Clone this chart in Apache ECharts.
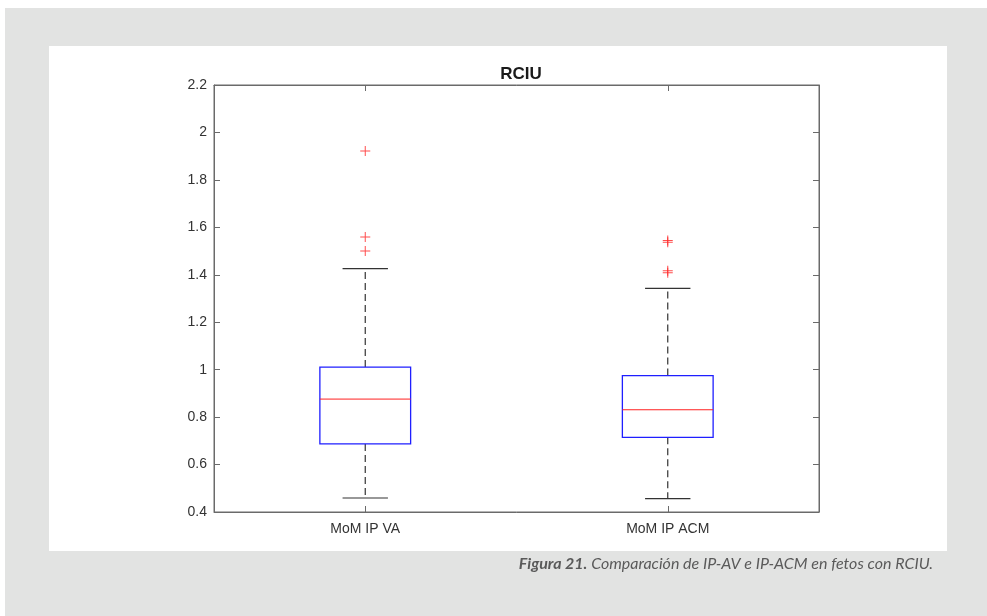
<!DOCTYPE html>
<html>
<head>
<meta charset="utf-8">
<script src="https://cdn.jsdelivr.net/npm/echarts@6/dist/echarts.min.js"></script>
<style>
  html, body { margin: 0; padding: 0; background: #ffffff; }
  #main { width: 987px; height: 616px; }
</style>
</head>
<body>
<div id="main"></div>
<script>
    // values (MoM of pulsatility index)
    var categories = ['MoM IP VA', 'MoM IP ACM'];
    var whiskerLow = [0.459, 0.456];
    var q1 = [0.687, 0.715];
    var median = [0.876, 0.831];
    var q3 = [1.011, 0.975];
    var whiskerHigh = [1.426, 1.343];
    var outliersVA = [1.922, 1.559, 1.500];
    var outliersACM = [1.545, 1.537, 1.417, 1.409];
    var yTicks = { min: 0.4, max: 2.2, interval: 0.2 };

    var chartDom = document.getElementById('main');
    var myChart = echarts.init(chartDom);

    var boxData = categories.map(function (c, i) {
        return [i, whiskerLow[i], q1[i], median[i], q3[i], whiskerHigh[i]];
    });
    var outlierData = [];
    outliersVA.forEach(function (v) { outlierData.push([0, v]); });
    outliersACM.forEach(function (v) { outlierData.push([1, v]); });

    var plusSymbol = 'path://M0,4.5h10v1h-10zM4.5,0h1v10h-1z';

    function renderBox(params, api) {
        var i = api.value(0);
        var lo = api.coord([i, api.value(1)]);
        var b1 = api.coord([i, api.value(2)]);
        var md = api.coord([i, api.value(3)]);
        var b3 = api.coord([i, api.value(4)]);
        var hi = api.coord([i, api.value(5)]);
        var band = api.size([1, 0])[0];
        var bw = band * 0.3;
        var cw = band * 0.15;
        var x = lo[0];
        var dash = { stroke: '#333', lineWidth: 1.2, lineDash: [7, 4] };
        var solid = { stroke: '#333', lineWidth: 1.2 };
        return {
            type: 'group',
            children: [
                { type: 'line', shape: { x1: x, y1: b3[1], x2: x, y2: hi[1] }, style: dash },
                { type: 'line', shape: { x1: x, y1: b1[1], x2: x, y2: lo[1] }, style: dash },
                { type: 'line', shape: { x1: x - cw / 2, y1: hi[1], x2: x + cw / 2, y2: hi[1] }, style: solid },
                { type: 'line', shape: { x1: x - cw / 2, y1: lo[1], x2: x + cw / 2, y2: lo[1] }, style: solid },
                {
                    type: 'rect',
                    shape: { x: x - bw / 2, y: b3[1], width: bw, height: b1[1] - b3[1] },
                    style: { fill: 'none', stroke: '#1f1fff', lineWidth: 1.3 }
                },
                {
                    type: 'line',
                    shape: { x1: x - bw / 2, y1: md[1], x2: x + bw / 2, y2: md[1] },
                    style: { stroke: '#ff2020', lineWidth: 1 }
                }
            ]
        };
    }

    var axisCol = '#6a6a6a';
    var tick = { show: true, inside: true, length: 6, alignWithLabel: true, lineStyle: { color: axisCol } };
    var option = {
        animation: false,
        textStyle: { fontFamily: 'Liberation Sans, Arial, sans-serif' },
        title: {
            text: 'RCIU',
            left: 516,
            top: 61,
            textAlign: 'center',
            textStyle: { fontSize: 17, fontWeight: 'bold', color: '#1a1a1a', fontFamily: 'Liberation Sans, Arial, sans-serif' }
        },
        graphic: [
            { type: 'rect', z: -10, shape: { x: 5, y: 8, width: 982, height: 608 }, style: { fill: '#e2e3e2' } },
            { type: 'rect', z: -9, shape: { x: 49, y: 46, width: 898, height: 505 }, style: { fill: '#ffffff' } },
            {
                type: 'text',
                right: 54,
                top: 556,
                style: {
                    text: '{b|Figura 21.} Comparación de IP-AV e IP-ACM en fetos con RCIU.',
                    fontFamily: 'Lato',
                    fontStyle: 'italic',
                    fontSize: 16,
                    fill: '#5a5a5a',
                    rich: {
                        b: { fontFamily: 'Lato', fontStyle: 'italic', fontWeight: 'bold', fontSize: 16, fill: '#5a5a5a' }
                    }
                }
            }
        ],
        grid: {
            left: 214, right: 168, top: 85, bottom: 104,
            show: true, borderColor: axisCol, borderWidth: 1, backgroundColor: '#ffffff'
        },
        xAxis: [
            {
                type: 'category',
                data: categories,
                boundaryGap: true,
                axisLine: { lineStyle: { color: axisCol } },
                axisTick: tick,
                axisLabel: { color: '#333', fontSize: 14, margin: 10 }
            },
            {
                type: 'category',
                data: categories,
                position: 'top',
                boundaryGap: true,
                axisLine: { show: true, lineStyle: { color: axisCol } },
                axisTick: tick,
                axisLabel: { show: false }
            }
        ],
        yAxis: [
            {
                type: 'value',
                min: yTicks.min, max: yTicks.max, interval: yTicks.interval,
                axisLine: { show: true, lineStyle: { color: axisCol } },
                axisTick: tick,
                axisLabel: { color: '#333', fontSize: 14, margin: 7 },
                splitLine: { show: false }
            },
            {
                type: 'value',
                position: 'right',
                min: yTicks.min, max: yTicks.max, interval: yTicks.interval,
                axisLine: { show: true, lineStyle: { color: axisCol } },
                axisTick: tick,
                axisLabel: { show: false },
                splitLine: { show: false }
            }
        ],
        series: [
            {
                type: 'custom',
                renderItem: renderBox,
                data: boxData,
                encode: { x: 0, y: [1, 2, 3, 4, 5] }
            },
            {
                type: 'scatter',
                data: outlierData,
                symbol: plusSymbol,
                symbolSize: 10,
                itemStyle: { color: '#ff2020' }
            }
        ]
    };

    myChart.setOption(option);
</script>
</body>
</html>
